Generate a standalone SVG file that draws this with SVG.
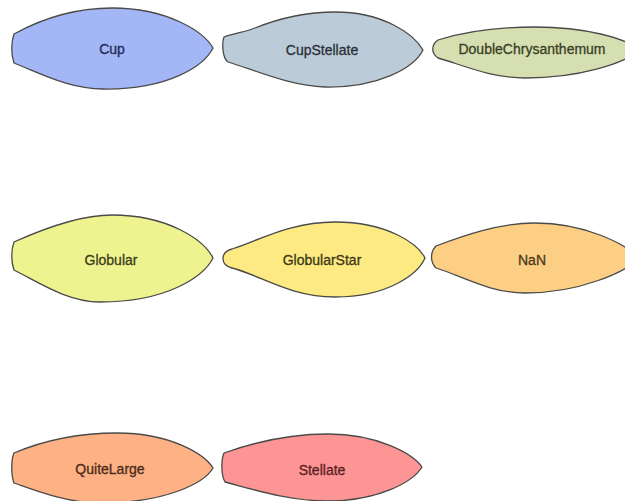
<svg xmlns="http://www.w3.org/2000/svg" width="625" height="501" viewBox="0 0 625 501">
<style>
.p{stroke:#4a4a48;stroke-width:1.3;stroke-linejoin:round}
.t{font-family:"Liberation Sans",Arial,sans-serif;font-size:14px;text-anchor:middle;dominant-baseline:central;stroke-width:0.3}
</style>
<rect width="625" height="501" fill="#ffffff"/>
<g id="connectors"/>
<g id="Cup">
<path class="p" fill="#A3B6F6" d="M14,34 C45,17 80,8 112,8 C168,8 204,32 213,48 C204,66 168,90 103,89 C70,89 42,74 14,63 C11,55 11,42 14,34 Z"/>
<text class="t" x="112" y="49" fill="#1F2A55" stroke="#1F2A55">Cup</text>
</g>
<g id="CupStellate">
<path class="p" fill="#BCCBD8" d="M224,37 C235,33 245,32 255,28 C280,18 310,12 335,12 C383,12 414,34 423,50 C414,68 378,88 325,87 C290,86 255,70 228,62 C222,58 222,42 224,37 Z"/>
<text class="t" x="322" y="50" fill="#2B3038" stroke="#2B3038">CupStellate</text>
</g>
<g id="DoubleChrysanthemum">
<path class="p" fill="#D6DFB2" d="M438,40 C470,30 505,27 535,27 C585,27 625,38 640,50 C625,63 580,78 525,78 C490,78 460,64 438,58 C431,53 431,45 438,40 Z"/>
<text class="t" x="532" y="49" fill="#3A3F25" stroke="#3A3F25">DoubleChrysanthemum</text>
</g>
<g id="Globular">
<path class="p" fill="#EEF28F" d="M14,242 C45,228 80,215 112,215 C168,215 204,240 213,258 C204,276 168,302 100,302 C68,302 40,283 14,270 C11,262 11,250 14,242 Z"/>
<text class="t" x="111" y="260" fill="#3C3D1A" stroke="#3C3D1A">Globular</text>
</g>
<g id="GlobularStar">
<path class="p" fill="#FDEA82" d="M232,249 C260,240 290,222 335,222 C388,222 418,244 425,258 C418,274 388,297 335,297 C290,297 260,275 232,268 C220,265 220,252 232,249 Z"/>
<text class="t" x="322" y="260" fill="#3D3818" stroke="#3D3818">GlobularStar</text>
</g>
<g id="NaN">
<path class="p" fill="#FCCF84" d="M436,246 C465,235 500,223 535,223 C585,223 625,244 640,258 C625,272 580,293 525,293 C490,293 462,276 436,268 C430,262 430,252 436,246 Z"/>
<text class="t" x="532" y="260" fill="#4A3A1C" stroke="#4A3A1C">NaN</text>
</g>
<g id="QuiteLarge">
<path class="p" fill="#FDB185" d="M14,453 C45,440 80,433 117,433 C172,433 205,455 213,468 C205,482 168,503 100,503 C68,503 40,492 14,483 C11,475 11,460 14,453 Z"/>
<text class="t" x="110" y="469" fill="#4A2A1A" stroke="#4A2A1A">QuiteLarge</text>
</g>
<g id="Stellate">
<path class="p" fill="#FD9595" d="M224,453 C255,442 290,434 328,434 C378,434 413,454 422,467 C413,482 378,501 328,501 C290,501 255,490 225,482 C221,475 221,460 224,453 Z"/>
<text class="t" x="322" y="470" fill="#5A1F1F" stroke="#5A1F1F">Stellate</text>
</g>
</svg>
